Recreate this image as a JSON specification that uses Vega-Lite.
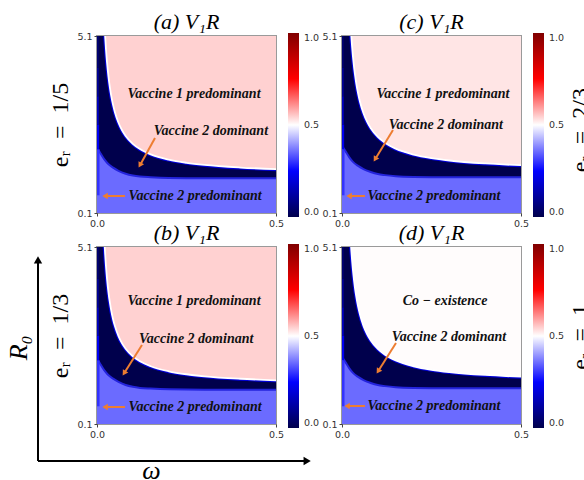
{
"$schema": "https://vega.github.io/schema/vega-lite/v6.json",
"background": "white",
"padding": {"left": 5, "top": 10, "right": 0, "bottom": 0},
"columns": 2,
"spacing": {"row": 34, "column": 66},
"bounds": "flush",
"datasets": {
"bg": [{"w0": 0, "w1": 0.5, "r0": 0.1, "r1": 5.1, "v": 0}],
"strip": [
{"w0": 0, "w1": 0.007, "r0": 0.6, "r1": 1.9, "v": 0.3},
{"w0": 0, "w1": 0.006, "r0": 1.9, "r1": 2.6, "v": 0.23},
{"w0": 0, "w1": 0.005, "r0": 2.6, "r1": 3.4, "v": 0.16},
{"w0": 0, "w1": 0.005, "r0": 3.4, "r1": 4.2, "v": 0.1},
{"w0": 0, "w1": 0.005, "r0": 4.2, "r1": 5.1, "v": 0.05}],
"up": [
{"p":"a","w":0.021,"U":5.417},{"p":"a","w":0.023,"U":5.047},{"p":"a","w":0.025,"U":4.736},{"p":"a","w":0.028,"U":4.353},{"p":"a","w":0.032,"U":3.954},{"p":"a","w":0.036,"U":3.643},{"p":"a","w":0.04,"U":3.395},{"p":"a","w":0.045,"U":3.147},{"p":"a","w":0.05,"U":2.948},{"p":"a","w":0.06,"U":2.65},{"p":"a","w":0.07,"U":2.437},{"p":"a","w":0.08,"U":2.278},{"p":"a","w":0.1,"U":2.054},{"p":"a","w":0.12,"U":1.905},{"p":"a","w":0.15,"U":1.756},{"p":"a","w":0.2,"U":1.607},{"p":"a","w":0.25,"U":1.518},{"p":"a","w":0.3,"U":1.458},{"p":"a","w":0.4,"U":1.384},{"p":"a","w":0.5,"U":1.339},
{"p":"b","w":0.02,"U":5.415},{"p":"b","w":0.022,"U":5.029},{"p":"b","w":0.025,"U":4.565},{"p":"b","w":0.028,"U":4.201},{"p":"b","w":0.032,"U":3.821},{"p":"b","w":0.036,"U":3.526},{"p":"b","w":0.04,"U":3.29},{"p":"b","w":0.045,"U":3.054},{"p":"b","w":0.05,"U":2.865},{"p":"b","w":0.06,"U":2.582},{"p":"b","w":0.07,"U":2.379},{"p":"b","w":0.08,"U":2.228},{"p":"b","w":0.1,"U":2.015},{"p":"b","w":0.12,"U":1.873},{"p":"b","w":0.15,"U":1.732},{"p":"b","w":0.2,"U":1.59},{"p":"b","w":0.25,"U":1.505},{"p":"b","w":0.3,"U":1.448},{"p":"b","w":0.4,"U":1.378},{"p":"b","w":0.5,"U":1.335},
{"p":"c","w":0.024,"U":5.417},{"p":"c","w":0.026,"U":5.096},{"p":"c","w":0.028,"U":4.821},{"p":"c","w":0.032,"U":4.375},{"p":"c","w":0.036,"U":4.028},{"p":"c","w":0.04,"U":3.75},{"p":"c","w":0.045,"U":3.472},{"p":"c","w":0.05,"U":3.25},{"p":"c","w":0.06,"U":2.917},{"p":"c","w":0.07,"U":2.679},{"p":"c","w":0.08,"U":2.5},{"p":"c","w":0.1,"U":2.25},{"p":"c","w":0.12,"U":2.083},{"p":"c","w":0.15,"U":1.917},{"p":"c","w":0.2,"U":1.75},{"p":"c","w":0.25,"U":1.65},{"p":"c","w":0.3,"U":1.583},{"p":"c","w":0.4,"U":1.5},{"p":"c","w":0.5,"U":1.45},
{"p":"d","w":0.024,"U":5.323},{"p":"d","w":0.026,"U":5.009},{"p":"d","w":0.028,"U":4.74},{"p":"d","w":0.032,"U":4.303},{"p":"d","w":0.036,"U":3.962},{"p":"d","w":0.04,"U":3.69},{"p":"d","w":0.045,"U":3.418},{"p":"d","w":0.05,"U":3.2},{"p":"d","w":0.06,"U":2.873},{"p":"d","w":0.07,"U":2.64},{"p":"d","w":0.08,"U":2.465},{"p":"d","w":0.1,"U":2.22},{"p":"d","w":0.12,"U":2.057},{"p":"d","w":0.15,"U":1.893},{"p":"d","w":0.2,"U":1.73},{"p":"d","w":0.25,"U":1.632},{"p":"d","w":0.3,"U":1.567},{"p":"d","w":0.4,"U":1.485},{"p":"d","w":0.5,"U":1.436}],
"lo": [
{"p":"a","w":0,"L":1.95},{"p":"a","w":0.01,"L":1.78},{"p":"a","w":0.02,"L":1.62},{"p":"a","w":0.03,"L":1.5},{"p":"a","w":0.045,"L":1.38},{"p":"a","w":0.06,"L":1.29},{"p":"a","w":0.08,"L":1.21},{"p":"a","w":0.1,"L":1.16},{"p":"a","w":0.12,"L":1.13},{"p":"a","w":0.15,"L":1.11},{"p":"a","w":0.2,"L":1.09},{"p":"a","w":0.3,"L":1.08},{"p":"a","w":0.5,"L":1.08},
{"p":"b","w":0,"L":1.95},{"p":"b","w":0.01,"L":1.78},{"p":"b","w":0.02,"L":1.62},{"p":"b","w":0.03,"L":1.5},{"p":"b","w":0.045,"L":1.38},{"p":"b","w":0.06,"L":1.29},{"p":"b","w":0.08,"L":1.2},{"p":"b","w":0.1,"L":1.15},{"p":"b","w":0.12,"L":1.12},{"p":"b","w":0.15,"L":1.1},{"p":"b","w":0.2,"L":1.08},{"p":"b","w":0.3,"L":1.07},{"p":"b","w":0.5,"L":1.07},
{"p":"c","w":0,"L":2.0},{"p":"c","w":0.01,"L":1.84},{"p":"c","w":0.02,"L":1.68},{"p":"c","w":0.03,"L":1.55},{"p":"c","w":0.045,"L":1.43},{"p":"c","w":0.06,"L":1.34},{"p":"c","w":0.08,"L":1.26},{"p":"c","w":0.1,"L":1.2},{"p":"c","w":0.12,"L":1.17},{"p":"c","w":0.15,"L":1.14},{"p":"c","w":0.2,"L":1.12},{"p":"c","w":0.3,"L":1.11},{"p":"c","w":0.5,"L":1.11},
{"p":"d","w":0,"L":2.0},{"p":"d","w":0.01,"L":1.84},{"p":"d","w":0.02,"L":1.68},{"p":"d","w":0.03,"L":1.55},{"p":"d","w":0.045,"L":1.43},{"p":"d","w":0.06,"L":1.34},{"p":"d","w":0.08,"L":1.26},{"p":"d","w":0.1,"L":1.2},{"p":"d","w":0.12,"L":1.17},{"p":"d","w":0.15,"L":1.14},{"p":"d","w":0.2,"L":1.12},{"p":"d","w":0.3,"L":1.11},{"p":"d","w":0.5,"L":1.11}],
"txt": [
{"p":"a","w":0.271,"r":3.46,"t":"Vaccine 1 predominant"},{"p":"a","w":0.318,"r":2.42,"t":"Vaccine 2 dominant"},{"p":"a","w":0.274,"r":0.58,"t":"Vaccine 2 predominant"},
{"p":"b","w":0.271,"r":3.57,"t":"Vaccine 1 predominant"},{"p":"b","w":0.277,"r":2.5,"t":"Vaccine 2 dominant"},{"p":"b","w":0.274,"r":0.58,"t":"Vaccine 2 predominant"},
{"p":"c","w":0.282,"r":3.46,"t":"Vaccine 1 predominant"},{"p":"c","w":0.29,"r":2.59,"t":"Vaccine 2 dominant"},{"p":"c","w":0.257,"r":0.58,"t":"Vaccine 2 predominant"},
{"p":"d","w":0.288,"r":3.57,"t":"Co − existence"},{"p":"d","w":0.299,"r":2.56,"t":"Vaccine 2 dominant"},{"p":"d","w":0.257,"r":0.61,"t":"Vaccine 2 predominant"}],
"arr": [
{"p":"a","w":0.162,"r":2.219,"w2":0.1212,"r2":1.473,"ang":209},{"p":"a","w":0.0782,"r":0.58,"w2":0.0251,"r2":0.58,"ang":270},
{"p":"b","w":0.1257,"r":2.332,"w2":0.0771,"r2":1.555,"ang":212},{"p":"b","w":0.0782,"r":0.58,"w2":0.0251,"r2":0.58,"ang":270},
{"p":"c","w":0.1424,"r":2.445,"w2":0.0938,"r2":1.642,"ang":211},{"p":"c","w":0.0642,"r":0.58,"w2":0.0223,"r2":0.58,"ang":270},
{"p":"d","w":0.1508,"r":2.388,"w2":0.1022,"r2":1.611,"ang":212},{"p":"d","w":0.0642,"r":0.6085,"w2":0.0168,"r2":0.6085,"ang":270}],
"side": [{"p":"c","w":0.667,"r":2.44,"t":"eᵣ\u2002=\u20022/3"},{"p":"d","w":0.667,"r":2.56,"t":"eᵣ\u2002=\u20021"}],
"bigax": [{"w":-0.1648,"r":-0.945,"w2":-0.1648,"r2":4.70,"ang":0},{"w":-0.1648,"r":-0.945,"w2":0.5837,"r2":-0.945,"ang":90}],
"axlab": [{"w":-0.2168,"r":2.25,"t":"R₀","ang":270},{"w":0.152,"r":-1.22,"t":"ω","ang":0}]
},
"concat": [
{"width": 179, "height": 177, "title": "(a) V₁R",
"layer": [
{"data": {"name": "bg"}, "mark": {"type": "rect", "clip": true, "opacity": 1},
 "encoding": {
 "x": {"field": "w0", "type": "quantitative", "scale": {"domain": [0, 0.5], "nice": false, "zero": false}, "axis": {"values": [0, 0.5], "format": ".1f", "title": null}},
 "x2": {"field": "w1"},
 "y": {"field": "r0", "type": "quantitative", "scale": {"domain": [0.1, 5.1], "nice": false, "zero": false}, "axis": {"values": [0.1, 5.1], "format": ".1f", "title": "eᵣ\u2002=\u20021/5"}},
 "y2": {"field": "r1"},
 "color": {"field": "v", "type": "quantitative", "scale": {"domain": [0, 0.25, 0.5, 0.75, 1], "range": ["#00004c", "#0000ff", "#ffffff", "#ff0000", "#800000"], "interpolate": "rgb"},
  "legend": {"type": "gradient", "orient": "none", "legendX": 191, "legendY": -3, "direction": "vertical", "gradientLength": 184, "gradientThickness": 11, "values": [0, 0.5, 1], "format": ".1f", "title": null, "labelFont": "DejaVu Sans", "labelFontSize": 9.5, "labelColor": "#333", "labelOffset": 5, "labelBaseline": "middle", "gradientStrokeWidth": 0}}}},
{"data": {"name": "lo"}, "transform": [{"filter": "datum.p == 'a'"}], "mark": {"type": "area", "clip": true, "opacity": 1, "interpolate": "monotone"},
 "encoding": {"x": {"field": "w", "type": "quantitative"}, "y": {"field": "L", "type": "quantitative"}, "y2": {"datum": 0.1}, "color": {"datum": 0.355, "type": "quantitative"}}},
{"data": {"name": "lo"}, "transform": [{"filter": "datum.p == 'a'"}], "mark": {"type": "line", "clip": true, "opacity": 1, "strokeWidth": 2, "interpolate": "monotone", "color": "#2424dc"},
 "encoding": {"x": {"field": "w", "type": "quantitative"}, "y": {"field": "L", "type": "quantitative"}}},
{"data": {"name": "strip"}, "mark": {"type": "rect", "clip": true, "opacity": 1},
 "encoding": {"x": {"field": "w0", "type": "quantitative"}, "x2": {"field": "w1"}, "y": {"field": "r0", "type": "quantitative"}, "y2": {"field": "r1"}, "color": {"field": "v", "type": "quantitative"}}},
{"data": {"name": "up"}, "transform": [{"filter": "datum.p == 'a'"}], "mark": {"type": "line", "clip": true, "opacity": 1, "strokeWidth": 4, "interpolate": "monotone", "color": "#0000d8"},
 "encoding": {"x": {"field": "w", "type": "quantitative"}, "y": {"field": "U", "type": "quantitative"}}},
{"data": {"name": "up"}, "transform": [{"filter": "datum.p == 'a'"}], "mark": {"type": "area", "clip": true, "opacity": 1, "interpolate": "monotone"},
 "encoding": {"x": {"field": "w", "type": "quantitative"}, "y": {"field": "U", "type": "quantitative"}, "y2": {"datum": 5.1}, "color": {"datum": 0.545, "type": "quantitative"}}},
{"data": {"name": "up"}, "transform": [{"filter": "datum.p == 'a'"}], "mark": {"type": "line", "clip": true, "opacity": 1, "strokeWidth": 1.8, "interpolate": "monotone", "color": "#ffffff"},
 "encoding": {"x": {"field": "w", "type": "quantitative"}, "y": {"field": "U", "type": "quantitative"}}},
{"data": {"name": "txt"}, "transform": [{"filter": "datum.p == 'a'"}], "mark": {"type": "text", "font": "Liberation Serif", "fontSize": 14, "fontWeight": "bold", "fontStyle": "italic", "color": "#111", "align": "center", "baseline": "middle"},
 "encoding": {"x": {"field": "w", "type": "quantitative"}, "y": {"field": "r", "type": "quantitative"}, "text": {"field": "t"}}},
{"data": {"name": "arr"}, "transform": [{"filter": "datum.p == 'a'"}], "mark": {"type": "rule", "color": "#ed7d31", "strokeWidth": 2},
 "encoding": {"x": {"field": "w", "type": "quantitative"}, "y": {"field": "r", "type": "quantitative"}, "x2": {"field": "w2"}, "y2": {"field": "r2"}}},
{"data": {"name": "arr"}, "transform": [{"filter": "datum.p == 'a'"}], "mark": {"type": "point", "shape": "triangle", "filled": true, "color": "#ed7d31", "size": 40, "opacity": 1},
 "encoding": {"x": {"field": "w2", "type": "quantitative"}, "y": {"field": "r2", "type": "quantitative"}, "angle": {"field": "ang", "type": "quantitative", "scale": null}}}
]},
{"width": 179, "height": 177, "title": "(c) V₁R",
"layer": [
{"data": {"name": "bg"}, "mark": {"type": "rect", "clip": true, "opacity": 1},
 "encoding": {
 "x": {"field": "w0", "type": "quantitative", "scale": {"domain": [0, 0.5], "nice": false, "zero": false}, "axis": {"values": [0, 0.5], "format": ".1f", "title": null}},
 "x2": {"field": "w1"},
 "y": {"field": "r0", "type": "quantitative", "scale": {"domain": [0.1, 5.1], "nice": false, "zero": false}, "axis": {"values": [0.1, 5.1], "format": ".1f", "title": null}},
 "y2": {"field": "r1"},
 "color": {"field": "v", "type": "quantitative", "scale": {"domain": [0, 0.25, 0.5, 0.75, 1], "range": ["#00004c", "#0000ff", "#ffffff", "#ff0000", "#800000"], "interpolate": "rgb"},
  "legend": {"type": "gradient", "orient": "none", "legendX": 191, "legendY": -3, "direction": "vertical", "gradientLength": 184, "gradientThickness": 11, "values": [0, 0.5, 1], "format": ".1f", "title": null, "labelFont": "DejaVu Sans", "labelFontSize": 9.5, "labelColor": "#333", "labelOffset": 5, "labelBaseline": "middle", "gradientStrokeWidth": 0}}}},
{"data": {"name": "lo"}, "transform": [{"filter": "datum.p == 'c'"}], "mark": {"type": "area", "clip": true, "opacity": 1, "interpolate": "monotone"},
 "encoding": {"x": {"field": "w", "type": "quantitative"}, "y": {"field": "L", "type": "quantitative"}, "y2": {"datum": 0.1}, "color": {"datum": 0.355, "type": "quantitative"}}},
{"data": {"name": "lo"}, "transform": [{"filter": "datum.p == 'c'"}], "mark": {"type": "line", "clip": true, "opacity": 1, "strokeWidth": 2, "interpolate": "monotone", "color": "#2424dc"},
 "encoding": {"x": {"field": "w", "type": "quantitative"}, "y": {"field": "L", "type": "quantitative"}}},
{"data": {"name": "strip"}, "mark": {"type": "rect", "clip": true, "opacity": 1},
 "encoding": {"x": {"field": "w0", "type": "quantitative"}, "x2": {"field": "w1"}, "y": {"field": "r0", "type": "quantitative"}, "y2": {"field": "r1"}, "color": {"field": "v", "type": "quantitative"}}},
{"data": {"name": "up"}, "transform": [{"filter": "datum.p == 'c'"}], "mark": {"type": "line", "clip": true, "opacity": 1, "strokeWidth": 4, "interpolate": "monotone", "color": "#0000d8"},
 "encoding": {"x": {"field": "w", "type": "quantitative"}, "y": {"field": "U", "type": "quantitative"}}},
{"data": {"name": "up"}, "transform": [{"filter": "datum.p == 'c'"}], "mark": {"type": "area", "clip": true, "opacity": 1, "interpolate": "monotone"},
 "encoding": {"x": {"field": "w", "type": "quantitative"}, "y": {"field": "U", "type": "quantitative"}, "y2": {"datum": 5.1}, "color": {"datum": 0.525, "type": "quantitative"}}},
{"data": {"name": "up"}, "transform": [{"filter": "datum.p == 'c'"}], "mark": {"type": "line", "clip": true, "opacity": 1, "strokeWidth": 1.8, "interpolate": "monotone", "color": "#ffffff"},
 "encoding": {"x": {"field": "w", "type": "quantitative"}, "y": {"field": "U", "type": "quantitative"}}},
{"data": {"name": "txt"}, "transform": [{"filter": "datum.p == 'c'"}], "mark": {"type": "text", "font": "Liberation Serif", "fontSize": 14, "fontWeight": "bold", "fontStyle": "italic", "color": "#111", "align": "center", "baseline": "middle"},
 "encoding": {"x": {"field": "w", "type": "quantitative"}, "y": {"field": "r", "type": "quantitative"}, "text": {"field": "t"}}},
{"data": {"name": "arr"}, "transform": [{"filter": "datum.p == 'c'"}], "mark": {"type": "rule", "color": "#ed7d31", "strokeWidth": 2},
 "encoding": {"x": {"field": "w", "type": "quantitative"}, "y": {"field": "r", "type": "quantitative"}, "x2": {"field": "w2"}, "y2": {"field": "r2"}}},
{"data": {"name": "arr"}, "transform": [{"filter": "datum.p == 'c'"}], "mark": {"type": "point", "shape": "triangle", "filled": true, "color": "#ed7d31", "size": 40, "opacity": 1},
 "encoding": {"x": {"field": "w2", "type": "quantitative"}, "y": {"field": "r2", "type": "quantitative"}, "angle": {"field": "ang", "type": "quantitative", "scale": null}}},
{"data": {"name": "side"}, "transform": [{"filter": "datum.p == 'c'"}], "mark": {"type": "text", "font": "Liberation Serif", "fontSize": 24, "color": "#000", "align": "center", "baseline": "middle", "angle": 270},
 "encoding": {"x": {"field": "w", "type": "quantitative"}, "y": {"field": "r", "type": "quantitative"}, "text": {"field": "t"}}}
]},
{"width": 179, "height": 177, "title": "(b) V₁R",
"layer": [
{"data": {"name": "bg"}, "mark": {"type": "rect", "clip": true, "opacity": 1},
 "encoding": {
 "x": {"field": "w0", "type": "quantitative", "scale": {"domain": [0, 0.5], "nice": false, "zero": false}, "axis": {"values": [0, 0.5], "format": ".1f", "title": null}},
 "x2": {"field": "w1"},
 "y": {"field": "r0", "type": "quantitative", "scale": {"domain": [0.1, 5.1], "nice": false, "zero": false}, "axis": {"values": [0.1, 5.1], "format": ".1f", "title": "eᵣ\u2002=\u20021/3"}},
 "y2": {"field": "r1"},
 "color": {"field": "v", "type": "quantitative", "scale": {"domain": [0, 0.25, 0.5, 0.75, 1], "range": ["#00004c", "#0000ff", "#ffffff", "#ff0000", "#800000"], "interpolate": "rgb"},
  "legend": {"type": "gradient", "orient": "none", "legendX": 191, "legendY": -3, "direction": "vertical", "gradientLength": 184, "gradientThickness": 11, "values": [0, 0.5, 1], "format": ".1f", "title": null, "labelFont": "DejaVu Sans", "labelFontSize": 9.5, "labelColor": "#333", "labelOffset": 5, "labelBaseline": "middle", "gradientStrokeWidth": 0}}}},
{"data": {"name": "lo"}, "transform": [{"filter": "datum.p == 'b'"}], "mark": {"type": "area", "clip": true, "opacity": 1, "interpolate": "monotone"},
 "encoding": {"x": {"field": "w", "type": "quantitative"}, "y": {"field": "L", "type": "quantitative"}, "y2": {"datum": 0.1}, "color": {"datum": 0.355, "type": "quantitative"}}},
{"data": {"name": "lo"}, "transform": [{"filter": "datum.p == 'b'"}], "mark": {"type": "line", "clip": true, "opacity": 1, "strokeWidth": 2, "interpolate": "monotone", "color": "#2424dc"},
 "encoding": {"x": {"field": "w", "type": "quantitative"}, "y": {"field": "L", "type": "quantitative"}}},
{"data": {"name": "strip"}, "mark": {"type": "rect", "clip": true, "opacity": 1},
 "encoding": {"x": {"field": "w0", "type": "quantitative"}, "x2": {"field": "w1"}, "y": {"field": "r0", "type": "quantitative"}, "y2": {"field": "r1"}, "color": {"field": "v", "type": "quantitative"}}},
{"data": {"name": "up"}, "transform": [{"filter": "datum.p == 'b'"}], "mark": {"type": "line", "clip": true, "opacity": 1, "strokeWidth": 4, "interpolate": "monotone", "color": "#0000d8"},
 "encoding": {"x": {"field": "w", "type": "quantitative"}, "y": {"field": "U", "type": "quantitative"}}},
{"data": {"name": "up"}, "transform": [{"filter": "datum.p == 'b'"}], "mark": {"type": "area", "clip": true, "opacity": 1, "interpolate": "monotone"},
 "encoding": {"x": {"field": "w", "type": "quantitative"}, "y": {"field": "U", "type": "quantitative"}, "y2": {"datum": 5.1}, "color": {"datum": 0.545, "type": "quantitative"}}},
{"data": {"name": "up"}, "transform": [{"filter": "datum.p == 'b'"}], "mark": {"type": "line", "clip": true, "opacity": 1, "strokeWidth": 1.8, "interpolate": "monotone", "color": "#ffffff"},
 "encoding": {"x": {"field": "w", "type": "quantitative"}, "y": {"field": "U", "type": "quantitative"}}},
{"data": {"name": "txt"}, "transform": [{"filter": "datum.p == 'b'"}], "mark": {"type": "text", "font": "Liberation Serif", "fontSize": 14, "fontWeight": "bold", "fontStyle": "italic", "color": "#111", "align": "center", "baseline": "middle"},
 "encoding": {"x": {"field": "w", "type": "quantitative"}, "y": {"field": "r", "type": "quantitative"}, "text": {"field": "t"}}},
{"data": {"name": "arr"}, "transform": [{"filter": "datum.p == 'b'"}], "mark": {"type": "rule", "color": "#ed7d31", "strokeWidth": 2},
 "encoding": {"x": {"field": "w", "type": "quantitative"}, "y": {"field": "r", "type": "quantitative"}, "x2": {"field": "w2"}, "y2": {"field": "r2"}}},
{"data": {"name": "arr"}, "transform": [{"filter": "datum.p == 'b'"}], "mark": {"type": "point", "shape": "triangle", "filled": true, "color": "#ed7d31", "size": 40, "opacity": 1},
 "encoding": {"x": {"field": "w2", "type": "quantitative"}, "y": {"field": "r2", "type": "quantitative"}, "angle": {"field": "ang", "type": "quantitative", "scale": null}}},
{"data": {"name": "bigax"}, "mark": {"type": "rule", "color": "#000", "strokeWidth": 2},
 "encoding": {"x": {"field": "w", "type": "quantitative"}, "y": {"field": "r", "type": "quantitative"}, "x2": {"field": "w2"}, "y2": {"field": "r2"}}},
{"data": {"name": "bigax"}, "mark": {"type": "point", "shape": "triangle", "filled": true, "color": "#000", "size": 70, "opacity": 1},
 "encoding": {"x": {"field": "w2", "type": "quantitative"}, "y": {"field": "r2", "type": "quantitative"}, "angle": {"field": "ang", "type": "quantitative", "scale": null}}},
{"data": {"name": "axlab"}, "mark": {"type": "text", "font": "Liberation Serif", "fontSize": 26, "fontStyle": "italic", "color": "#000", "align": "center", "baseline": "middle"},
 "encoding": {"x": {"field": "w", "type": "quantitative"}, "y": {"field": "r", "type": "quantitative"}, "text": {"field": "t"}, "angle": {"field": "ang", "type": "quantitative", "scale": null}}}
]},
{"width": 179, "height": 177, "title": "(d) V₁R",
"layer": [
{"data": {"name": "bg"}, "mark": {"type": "rect", "clip": true, "opacity": 1},
 "encoding": {
 "x": {"field": "w0", "type": "quantitative", "scale": {"domain": [0, 0.5], "nice": false, "zero": false}, "axis": {"values": [0, 0.5], "format": ".1f", "title": null}},
 "x2": {"field": "w1"},
 "y": {"field": "r0", "type": "quantitative", "scale": {"domain": [0.1, 5.1], "nice": false, "zero": false}, "axis": {"values": [0.1, 5.1], "format": ".1f", "title": null}},
 "y2": {"field": "r1"},
 "color": {"field": "v", "type": "quantitative", "scale": {"domain": [0, 0.25, 0.5, 0.75, 1], "range": ["#00004c", "#0000ff", "#ffffff", "#ff0000", "#800000"], "interpolate": "rgb"},
  "legend": {"type": "gradient", "orient": "none", "legendX": 191, "legendY": -3, "direction": "vertical", "gradientLength": 184, "gradientThickness": 11, "values": [0, 0.5, 1], "format": ".1f", "title": null, "labelFont": "DejaVu Sans", "labelFontSize": 9.5, "labelColor": "#333", "labelOffset": 5, "labelBaseline": "middle", "gradientStrokeWidth": 0}}}},
{"data": {"name": "lo"}, "transform": [{"filter": "datum.p == 'd'"}], "mark": {"type": "area", "clip": true, "opacity": 1, "interpolate": "monotone"},
 "encoding": {"x": {"field": "w", "type": "quantitative"}, "y": {"field": "L", "type": "quantitative"}, "y2": {"datum": 0.1}, "color": {"datum": 0.355, "type": "quantitative"}}},
{"data": {"name": "lo"}, "transform": [{"filter": "datum.p == 'd'"}], "mark": {"type": "line", "clip": true, "opacity": 1, "strokeWidth": 2, "interpolate": "monotone", "color": "#2424dc"},
 "encoding": {"x": {"field": "w", "type": "quantitative"}, "y": {"field": "L", "type": "quantitative"}}},
{"data": {"name": "strip"}, "mark": {"type": "rect", "clip": true, "opacity": 1},
 "encoding": {"x": {"field": "w0", "type": "quantitative"}, "x2": {"field": "w1"}, "y": {"field": "r0", "type": "quantitative"}, "y2": {"field": "r1"}, "color": {"field": "v", "type": "quantitative"}}},
{"data": {"name": "up"}, "transform": [{"filter": "datum.p == 'd'"}], "mark": {"type": "line", "clip": true, "opacity": 1, "strokeWidth": 4, "interpolate": "monotone", "color": "#0000d8"},
 "encoding": {"x": {"field": "w", "type": "quantitative"}, "y": {"field": "U", "type": "quantitative"}}},
{"data": {"name": "up"}, "transform": [{"filter": "datum.p == 'd'"}], "mark": {"type": "area", "clip": true, "opacity": 1, "interpolate": "monotone"},
 "encoding": {"x": {"field": "w", "type": "quantitative"}, "y": {"field": "U", "type": "quantitative"}, "y2": {"datum": 5.1}, "color": {"datum": 0.503, "type": "quantitative"}}},
{"data": {"name": "up"}, "transform": [{"filter": "datum.p == 'd'"}], "mark": {"type": "line", "clip": true, "opacity": 1, "strokeWidth": 1.8, "interpolate": "monotone", "color": "#ffffff"},
 "encoding": {"x": {"field": "w", "type": "quantitative"}, "y": {"field": "U", "type": "quantitative"}}},
{"data": {"name": "txt"}, "transform": [{"filter": "datum.p == 'd'"}], "mark": {"type": "text", "font": "Liberation Serif", "fontSize": 14, "fontWeight": "bold", "fontStyle": "italic", "color": "#111", "align": "center", "baseline": "middle"},
 "encoding": {"x": {"field": "w", "type": "quantitative"}, "y": {"field": "r", "type": "quantitative"}, "text": {"field": "t"}}},
{"data": {"name": "arr"}, "transform": [{"filter": "datum.p == 'd'"}], "mark": {"type": "rule", "color": "#ed7d31", "strokeWidth": 2},
 "encoding": {"x": {"field": "w", "type": "quantitative"}, "y": {"field": "r", "type": "quantitative"}, "x2": {"field": "w2"}, "y2": {"field": "r2"}}},
{"data": {"name": "arr"}, "transform": [{"filter": "datum.p == 'd'"}], "mark": {"type": "point", "shape": "triangle", "filled": true, "color": "#ed7d31", "size": 40, "opacity": 1},
 "encoding": {"x": {"field": "w2", "type": "quantitative"}, "y": {"field": "r2", "type": "quantitative"}, "angle": {"field": "ang", "type": "quantitative", "scale": null}}},
{"data": {"name": "side"}, "transform": [{"filter": "datum.p == 'd'"}], "mark": {"type": "text", "font": "Liberation Serif", "fontSize": 24, "color": "#000", "align": "center", "baseline": "middle", "angle": 270},
 "encoding": {"x": {"field": "w", "type": "quantitative"}, "y": {"field": "r", "type": "quantitative"}, "text": {"field": "t"}}}
]}
],
"resolve": {"scale": {"x": "independent", "y": "independent", "color": "independent"}, "axis": {"x": "independent", "y": "independent"}, "legend": {"color": "independent"}},
"config": {
 "view": {"stroke": "#9a9a9a", "strokeWidth": 2},
 "axis": {"domain": false, "grid": false, "labelFont": "DejaVu Sans", "labelFontSize": 9.5, "labelColor": "#333", "tickColor": "#444", "tickSize": 3, "labelPadding": 2, "titleFont": "Liberation Serif", "titleFontSize": 24, "titleFontWeight": "normal", "titleColor": "#000", "titlePadding": 4},
 "axisX": {"labelFlush": false},
 "title": {"font": "Liberation Serif", "fontSize": 22, "fontStyle": "italic", "fontWeight": "normal", "color": "#000", "offset": -3, "anchor": "middle"}
}
}
